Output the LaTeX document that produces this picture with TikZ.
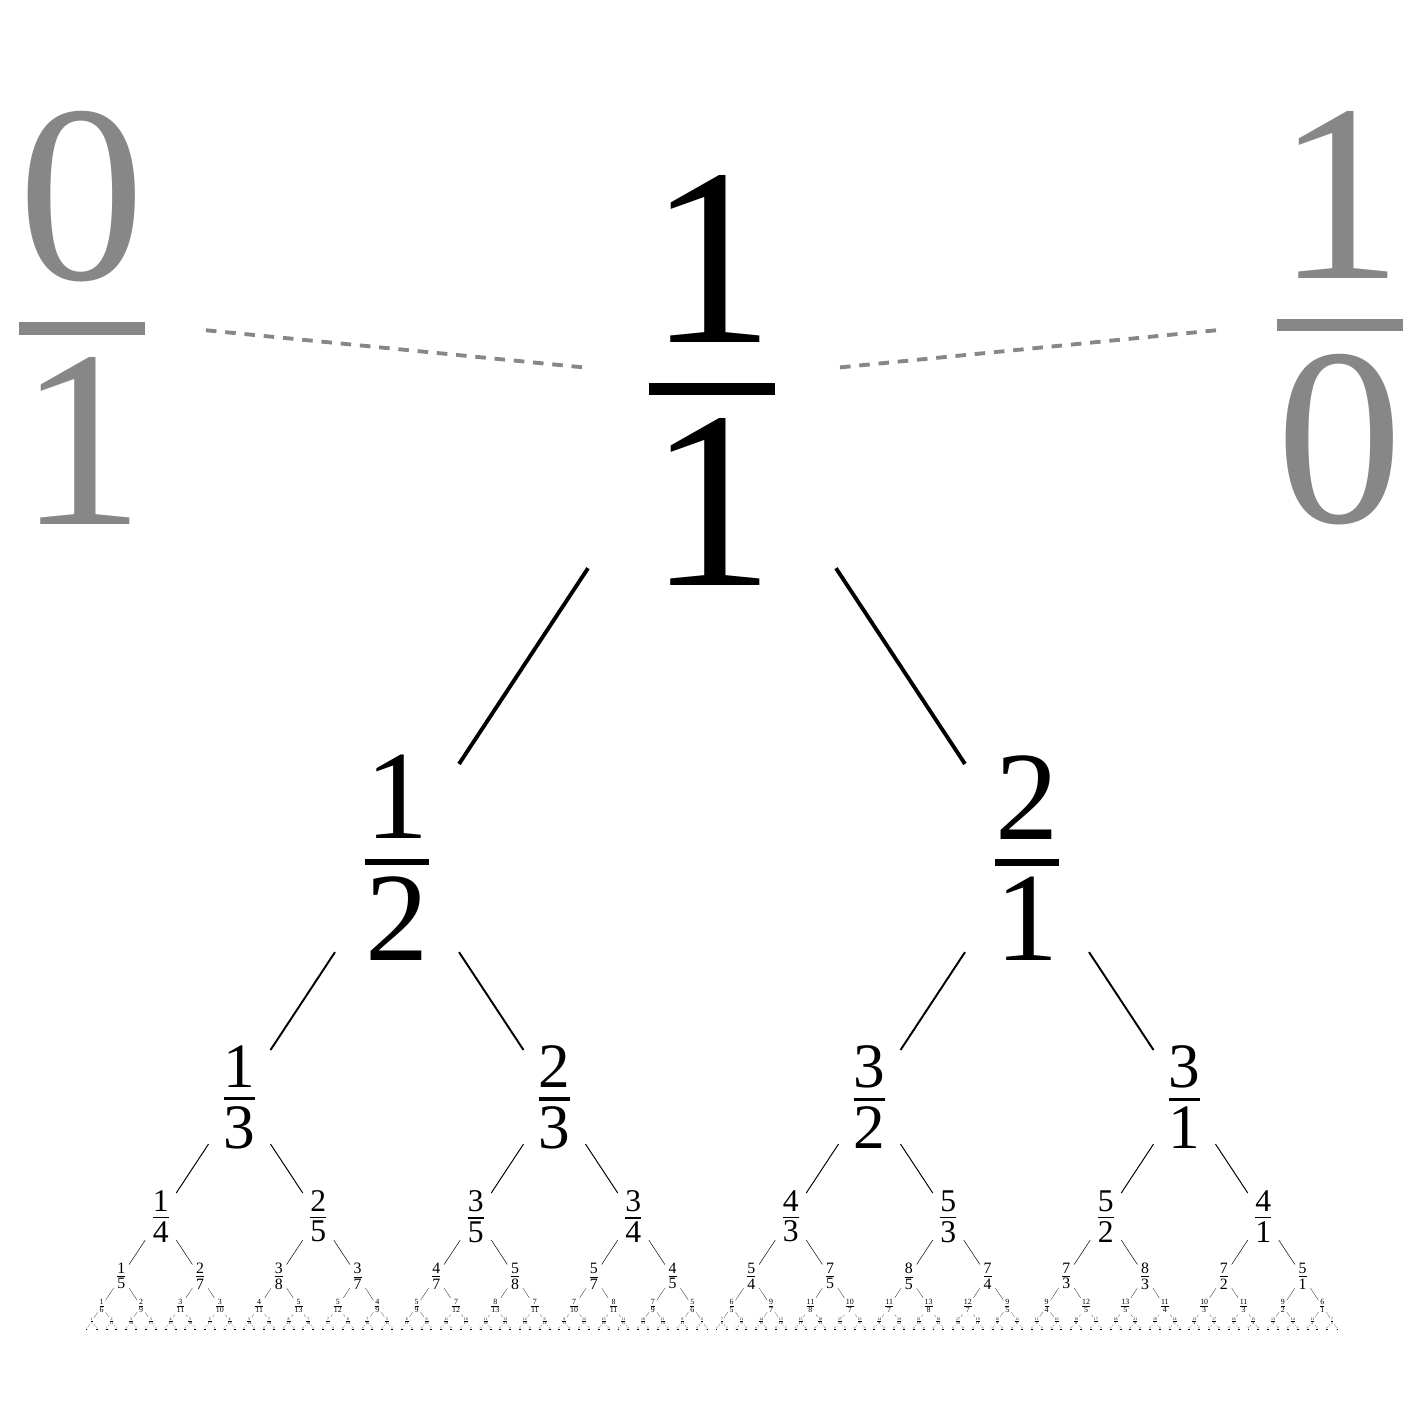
\documentclass[tikz,border=0pt]{standalone}
\usepackage{fontspec}
\setmainfont{Liberation Serif}
\usepackage{tikz}
\definecolor{endgrey}{gray}{0.53}
\newcommand\sbfrac[2]{\vbox{\offinterlineskip\halign{\hfil##\hfil\cr #1\cr
  \noalign{\kern1.6pt\hrule height0.5pt\kern0.9pt}#2\cr}}}
\tikzset{
  fracnode/.style={inner sep=2.2pt},
  endnode/.style={fracnode, scale=7.2, text=endgrey},
  sbedge/.style={line width=#1pt},
  ghostedge/.style={endgrey, line width=1.1pt, dash pattern=on 3pt off 2.5pt}
}
% a b c d level x parent
\newcommand\sbtree[7]{%
  \begingroup
  \pgfmathtruncatemacro\sbp{#1+#3}%
  \pgfmathtruncatemacro\sbq{#2+#4}%
  \pgfmathsetmacro\sbs{7.2/2^#5}%
  \pgfmathsetmacro\sby{-(3.8+9.56*(1-1/2^#5))}%
  \pgfmathsetmacro\sbdx{6.3/2^(#5+1)}%
  \pgfmathsetmacro\sbw{2.2/2^#5}%
  \node[fracnode, scale=\sbs] (n\sbp-\sbq) at (#6,\sby) {\sbfrac{\sbp}{\sbq}};
  \draw[sbedge=\sbw] (#7) -- (n\sbp-\sbq);
  \ifnum#5<7
    \pgfmathsetmacro\sbl{#6-\sbdx}%
    \pgfmathsetmacro\sbr{#6+\sbdx}%
    \edef\sbnext{\noexpand\sbtree{#1}{#2}{\sbp}{\sbq}{\the\numexpr#5+1\relax}{\sbl}{n\sbp-\sbq}%
      \noexpand\sbtree{\sbp}{\sbq}{#3}{#4}{\the\numexpr#5+1\relax}{\sbr}{n\sbp-\sbq}}%
    \sbnext
  \fi
  \endgroup}
\begin{document}
\begin{tikzpicture}
\useasboundingbox (0,0) rectangle (14.2,-14.16);
% the two ends
\node[endnode] (z0-1) at (0.82,-3.18) {\sbfrac{0}{1}};
\node[endnode] (z1-0) at (13.40,-3.18) {\sbfrac{1}{0}};
% root
\node[fracnode, scale=7.2] (n1-1) at (7.12,-3.8) {\sbfrac{1}{1}};
\draw[ghostedge] (z0-1) -- (n1-1);
\draw[ghostedge] (z1-0) -- (n1-1);
% the tree below
\sbtree{0}{1}{1}{1}{1}{3.97}{n1-1}
\sbtree{1}{1}{1}{0}{1}{10.27}{n1-1}
\end{tikzpicture}
\end{document}
